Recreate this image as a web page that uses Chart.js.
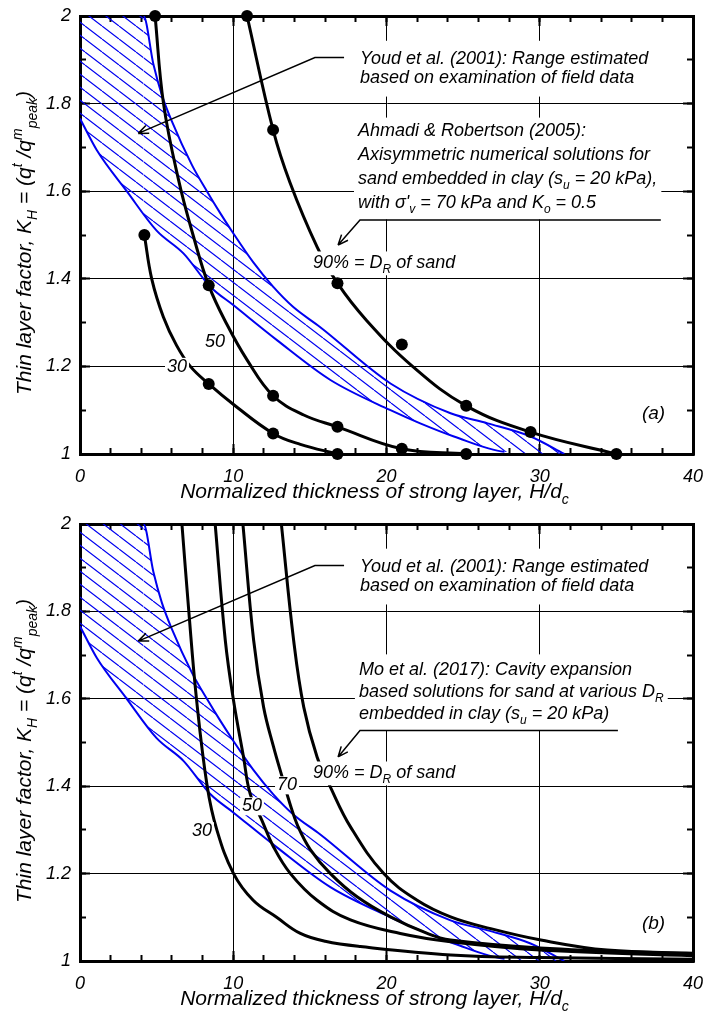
<!DOCTYPE html>
<html>
<head>
<meta charset="utf-8">
<script src="https://cdn.jsdelivr.net/npm/chart.js@4.4.1/dist/chart.umd.min.js"></script>
<style>
  body { margin: 0; background: #fff; }
  canvas { display: block; }
</style>
</head>
<body>
<canvas id="chartA" width="704" height="510"></canvas>
<canvas id="chartB" width="704" height="511"></canvas>
<script>
// tick labels and grid lines
const xLabelVals = [0, 10, 20, 30, 40];
const yLabelVals = [1, 1.2, 1.4, 1.6, 1.8, 2];
const xGridVals = [10, 20, 30];
const yGridVals = [1.2, 1.4, 1.6, 1.8];

// Youd et al. (2001) range, upper and lower bounds
const youdUpperX = [0, 4.14, 4.79, 5.34, 5.99, 7.3, 8.28, 9.15, 10.0, 11.3, 12.6, 13.9, 15.66, 20.26, 24.18, 26.6, 29.4, 31.6];
const youdUpperY = [2, 2, 1.89, 1.82, 1.76, 1.66, 1.6, 1.55, 1.504, 1.438, 1.382, 1.336, 1.29, 1.161, 1.093, 1.07, 1.04, 1.0];
const youdLowerX = [0, 1.09, 3.05, 5.0, 6.75, 8.5, 10.0, 12.85, 16.34, 20.26, 22.2, 24.4, 27.7];
const youdLowerY = [1.766, 1.694, 1.6, 1.51, 1.458, 1.382, 1.34, 1.26, 1.169, 1.10, 1.07, 1.04, 1.005];

// Ahmadi & Robertson (2005): curves and computed points, DR = 30, 50, 90 %
const ar30X = [4.2, 4.68, 5.44, 6.3, 7.2, 8.4, 10.02, 12.6, 14.38, 16.8];
const ar30Y = [1.5, 1.4, 1.313, 1.248, 1.2, 1.16, 1.113, 1.047, 1.022, 1.0];
const ar30PtX = [4.2, 8.4, 12.6, 16.8];
const ar30PtY = [1.5, 1.16, 1.047, 1.0];
const ar50X = [4.9, 5.45, 6.43, 7.41, 8.4, 9.6, 10.9, 12.6, 14.6, 16.8, 21.0, 25.2];
const ar50Y = [2.0, 1.8, 1.626, 1.496, 1.385, 1.295, 1.215, 1.133, 1.089, 1.062, 1.012, 1.0];
const ar50PtX = [4.9, 8.4, 12.6, 16.8, 21.0, 25.2];
const ar50PtY = [2.0, 1.385, 1.133, 1.062, 1.012, 1.0];
const ar90X = [10.9, 12.6, 13.7, 15.47, 16.8, 18.7, 21.7, 25.2, 29.4, 35.0];
const ar90Y = [2.0, 1.74, 1.62, 1.473, 1.39, 1.305, 1.2, 1.11, 1.05, 1.0];
const ar90PtX = [10.9, 12.6, 16.8, 21.0, 25.2, 29.4, 35.0];
const ar90PtY = [2.0, 1.74, 1.39, 1.25, 1.11, 1.05, 1.0];

// Mo et al. (2017): DR = 30, 50, 70, 90 %
const mo30X = [6.65, 7.1, 7.6, 8.3, 8.93, 10.02, 11.3, 12.83, 14.38, 16.0, 18.3, 24.2, 30, 40];
const mo30Y = [2.0, 1.8, 1.6, 1.4, 1.3, 1.2, 1.139, 1.1, 1.063, 1.045, 1.033, 1.014, 1.008, 1.004];
const mo50X = [8.82, 9.48, 10.0, 10.67, 11.1, 11.87, 12.63, 13.73, 15.47, 17.65, 20.9, 24.18, 30, 40];
const mo50Y = [2.0, 1.734, 1.6, 1.467, 1.383, 1.322, 1.261, 1.2, 1.139, 1.094, 1.063, 1.044, 1.025, 1.012];
const mo70X = [10.63, 11.33, 11.98, 12.63, 13.2, 13.7, 14.2, 15.03, 16.34, 18.08, 20.26, 22.66, 24.18, 30, 40];
const mo70Y = [2.0, 1.734, 1.581, 1.49, 1.42, 1.36, 1.31, 1.255, 1.2, 1.147, 1.101, 1.063, 1.048, 1.03, 1.016];
const mo90X = [13.14, 13.94, 14.6, 15.47, 16.34, 17.65, 19.82, 22.0, 24.18, 26.8, 30.07, 34.4, 40];
const mo90Y = [2.0, 1.734, 1.581, 1.467, 1.398, 1.307, 1.2, 1.139, 1.101, 1.074, 1.048, 1.025, 1.018];

const FAMILY = '"Liberation Sans", Arial, sans-serif';
const BLUE = '#0000f0';
const NONE = 'rgba(0,0,0,0)';

const pts = (xs, ys) => xs.map((x, i) => ({x, y: ys[i]}));
const near = (list, v) => list.some(t => Math.abs(t - v) < 1e-6);
const font = size => `italic ${size}px ${FAMILY}`;

function hatchPattern() {
  const c = document.createElement('canvas');
  c.width = 17; c.height = 13;
  const g = c.getContext('2d');
  g.strokeStyle = BLUE;
  g.lineWidth = 1.2;
  g.beginPath();
  for (const dx of [-17, 0, 17]) { g.moveTo(dx, 0); g.lineTo(dx + 17, 13); }
  g.stroke();
  return g.createPattern(c, 'repeat');
}

function curve(xs, ys) {
  return { data: pts(xs, ys), showLine: true, borderColor: '#000', borderWidth: 3,
    pointRadius: 0, tension: 0.4, fill: false, order: 0 };
}
function dots(xs, ys) {
  return { data: pts(xs, ys), showLine: false, pointRadius: 6, pointBackgroundColor: '#000',
    pointBorderWidth: 0, clip: 8, order: 0 };
}
function youdSets() {
  const lower = pts(youdLowerX, youdLowerY);
  lower.push({x: youdUpperX[youdUpperX.length - 1], y: 1});
  return [
    // upper bound; its first piece runs along the top frame, so it is not stroked
    { data: pts(youdUpperX, youdUpperY), showLine: true, borderColor: BLUE, borderWidth: 2,
      pointRadius: 0, cubicInterpolationMode: 'monotone', backgroundColor: hatchPattern(),
      fill: '+1', order: 1,
      segment: { borderColor: c => c.p0DataIndex === 0 ? NONE : undefined } },
    // lower bound, closed along the x axis for the fill
    { data: lower, showLine: true, borderColor: BLUE, borderWidth: 2, pointRadius: 0,
      cubicInterpolationMode: 'monotone', fill: false, order: 1,
      segment: { borderColor: c => c.p0DataIndex >= youdLowerX.length - 1 ? NONE : undefined } }
  ];
}

function fixSize(w, h) {
  return s => {
    if (w !== undefined) s.width = w;
    if (h !== undefined) s.height = h;
    s.paddingLeft = s.paddingRight = s.paddingTop = s.paddingBottom = 0;
  };
}

function scales(topH, bottomH) {
  const tickFont = {family: FAMILY, size: 18, style: 'italic'};
  const tickAxis = (pos, min, max, step, len, weight, fit, border) => ({
    type: 'linear', position: pos, min, max, weight,
    ticks: {stepSize: step, autoSkip: false, display: false},
    grid: {drawOnChartArea: false, tickColor: '#000', tickLength: len, tickWidth: 2},
    border: border ? {color: '#000', width: 3} : {display: false},
    afterFit: fit
  });
  return {
    x: {
      type: 'linear', position: 'bottom', min: 0, max: 40, weight: 1,
      ticks: {stepSize: 2, autoSkip: false, maxRotation: 0, padding: 18, color: '#000', font: tickFont,
        callback: v => near(xLabelVals, v) ? String(v) : ''},
      grid: {color: c => near(xGridVals, c.tick.value) ? '#000' : NONE, lineWidth: 1,
        tickColor: '#000', tickLength: -6, tickWidth: 2},
      border: {color: '#000', width: 3},
      afterFit: fixSize(undefined, bottomH)
    },
    y: {
      type: 'linear', position: 'left', min: 1, max: 2, weight: 1,
      ticks: {stepSize: 0.1, autoSkip: false, padding: 15, color: '#000', font: tickFont,
        callback: v => near(yLabelVals, v) ? String(Math.round(v * 10) / 10) : ''},
      grid: {color: c => near(yGridVals, c.tick.value) ? '#000' : NONE, lineWidth: 1,
        tickColor: '#000', tickLength: -6, tickWidth: 2},
      border: {color: '#000', width: 3},
      afterFit: fixSize(80)
    },
    xTop: tickAxis('top', 0, 40, 2, -6, 1, fixSize(undefined, topH), true),
    yRight: tickAxis('right', 1, 2, 0.1, -6, 1, fixSize(11), true),
    xMaj: tickAxis('bottom', 0, 40, 10, -10, 0, fixSize(undefined, 0), false),
    xTopMaj: tickAxis('top', 0, 40, 10, -10, 0, fixSize(undefined, 0), false),
    yMaj: tickAxis('left', 1, 2, 0.2, -10, 0, fixSize(0), false),
    yRightMaj: tickAxis('right', 1, 2, 0.2, -10, 0, fixSize(0), false)
  };
}

// draws text made of plain / sub / sup parts, returns width
function drawRich(ctx, parts, x, y, size, measureOnly) {
  let cx = x;
  for (const p of parts) {
    const [t, mode] = typeof p === 'string' ? [p, ''] : p;
    const s = mode ? Math.round(size * 0.68) : size;
    const dy = mode === 'sub' ? size * 0.3 : mode === 'sup' ? -size * 0.42 : 0;
    ctx.font = font(s);
    if (!measureOnly) ctx.fillText(t, cx, y + dy);
    cx += ctx.measureText(t).width;
  }
  return cx - x;
}

function annotPlugin(spec) {
  return {
    id: 'annot',
    afterDatasetsDraw(chart) {
      const ctx = chart.ctx;
      const px = v => chart.scales.x.getPixelForValue(v);
      const py = v => chart.scales.y.getPixelForValue(v);
      ctx.save();
      ctx.textAlign = 'left';
      ctx.textBaseline = 'alphabetic';
      ctx.fillStyle = '#000';
      for (const b of spec.blocks) {
        const x = px(b.x), y = py(b.y);
        const w = Math.max(...b.lines.map(l => drawRich(ctx, l, 0, 0, b.size, true)));
        if (b.bg) {
          ctx.fillStyle = '#fff';
          ctx.fillRect(x - 4, y - b.size * 0.8 - b.padT, w + 8,
            b.lh * (b.lines.length - 1) + b.size * 1.1 + b.padT + b.padB);
          ctx.fillStyle = '#000';
        }
        b.lines.forEach((l, i) => drawRich(ctx, l, x, y + i * b.lh, b.size));
      }
      for (const a of spec.arrows) {
        const p = a.map(([vx, vy]) => [px(vx), py(vy)]);
        ctx.strokeStyle = '#000';
        ctx.lineWidth = 1.5;
        ctx.beginPath();
        p.forEach(([qx, qy], i) => i ? ctx.lineTo(qx, qy) : ctx.moveTo(qx, qy));
        const [ex, ey] = p[p.length - 1], [sx, sy] = p[p.length - 2];
        const ang = Math.atan2(ey - sy, ex - sx);
        for (const d of [-0.4, 0.4]) {
          ctx.moveTo(ex, ey);
          ctx.lineTo(ex - 11 * Math.cos(ang + d), ey - 11 * Math.sin(ang + d));
        }
        ctx.stroke();
      }
      ctx.textAlign = 'center';
      ctx.textBaseline = 'middle';
      ctx.font = font(18);
      for (const l of spec.labels) {
        const x = px(l.x), y = py(l.y);
        const w = ctx.measureText(l.text).width;
        ctx.fillStyle = '#fff';
        ctx.fillRect(x - w / 2 - 2, y - 9, w + 4, 18);
        ctx.fillStyle = '#000';
        ctx.fillText(l.text, x, y);
      }
      ctx.restore();
    },
    afterDraw(chart) {
      const ctx = chart.ctx, area = chart.chartArea;
      ctx.save();
      ctx.fillStyle = '#000';
      ctx.textAlign = 'left';
      ctx.textBaseline = 'alphabetic';
      const xt = ['Normalized thickness of strong layer, H/d', ['c', 'sub']];
      const wx = drawRich(ctx, xt, 0, 0, 21, true);
      drawRich(ctx, xt, (area.left + area.right) / 2 - 12 - wx / 2, area.bottom + 44, 21);
      const yt = ['Thin layer factor, K', ['H', 'sub'], ' = (q', ['t', 'sup'], ' /q', ['m', 'sup'], ['peak', 'sub'], ')'];
      const wy = drawRich(ctx, yt, 0, 0, 21, true);
      ctx.translate(31, area.top + 227);
      ctx.rotate(-Math.PI / 2);
      drawRich(ctx, yt, -wy / 2, 0, 21);
      ctx.restore();
    }
  };
}

function makeChart(id, curves, spec, topH, bottomH) {
  return new Chart(document.getElementById(id), {
    type: 'scatter',
    data: { datasets: [...curves, ...youdSets()] },
    options: {
      responsive: false, maintainAspectRatio: false, animation: false, devicePixelRatio: 1,
      events: [],
      layout: { padding: 0 },
      plugins: { legend: {display: false}, tooltip: {enabled: false} },
      scales: scales(topH, bottomH)
    },
    plugins: [annotPlugin(spec)]
  });
}

const youdText = { x: 18.27, y: 1.89, lh: 19, size: 18, bg: true, padT: 9, padB: 8, lines: [
  ['Youd et al. (2001): Range estimated'],
  ['based on examination of field data']
]};
const youdArrow = [[17.23, 1.905], [15.33, 1.905], [3.8, 1.732]];

makeChart('chartA', [
  curve(ar30X, ar30Y), dots(ar30PtX, ar30PtY),
  curve(ar50X, ar50Y), dots(ar50PtX, ar50PtY),
  curve(ar90X, ar90Y), dots(ar90PtX, ar90PtY)
], {
  blocks: [
    youdText,
    { x: 18.14, y: 1.726, lh: 24, size: 18, bg: true, padT: 4, padB: 6, lines: [
      ['Ahmadi & Robertson (2005):'],
      ['Axisymmetric numerical solutions for'],
      ['sand embedded in clay (s', ['u', 'sub'], ' = 20 kPa),'],
      ['with \u03c3\'', ['v', 'sub'], ' = 70 kPa and K', ['o', 'sub'], ' = 0.5']
    ]},
    { x: 15.2, y: 1.425, lh: 19, size: 18, bg: true, padT: 2, padB: 2, lines: [
      ['90% = D', ['R', 'sub'], ' of sand']
    ]},
    { x: 36.67, y: 1.08, lh: 19, size: 19, bg: false, padT: 0, padB: 0, lines: [['(a)']] }
  ],
  arrows: [youdArrow, [[37.9, 1.534], [18.27, 1.534], [16.84, 1.477]]],
  labels: [{x: 6.33, y: 1.199, text: '30'}, {x: 8.81, y: 1.256, text: '50'}]
}, 16, 56);

makeChart('chartB', [
  curve(mo30X, mo30Y), curve(mo50X, mo50Y), curve(mo70X, mo70Y), curve(mo90X, mo90Y)
], {
  blocks: [
    youdText,
    { x: 18.2, y: 1.655, lh: 22, size: 18, bg: true, padT: 6, padB: 6, lines: [
      ['Mo et al. (2017): Cavity expansion'],
      ['based solutions for sand at various D', ['R', 'sub']],
      ['embedded in clay (s', ['u', 'sub'], ' = 20 kPa)']
    ]},
    { x: 15.2, y: 1.419, lh: 19, size: 18, bg: true, padT: 2, padB: 2, lines: [
      ['90% = D', ['R', 'sub'], ' of sand']
    ]},
    { x: 36.67, y: 1.074, lh: 19, size: 19, bg: false, padT: 0, padB: 0, lines: [['(b)']] }
  ],
  arrows: [youdArrow, [[35.1, 1.5275], [18.27, 1.5275], [16.84, 1.467]]],
  labels: [{x: 7.96, y: 1.297, text: '30'}, {x: 11.22, y: 1.354, text: '50'}, {x: 13.51, y: 1.402, text: '70'}]
}, 14, 60);
</script>
</body>
</html>
